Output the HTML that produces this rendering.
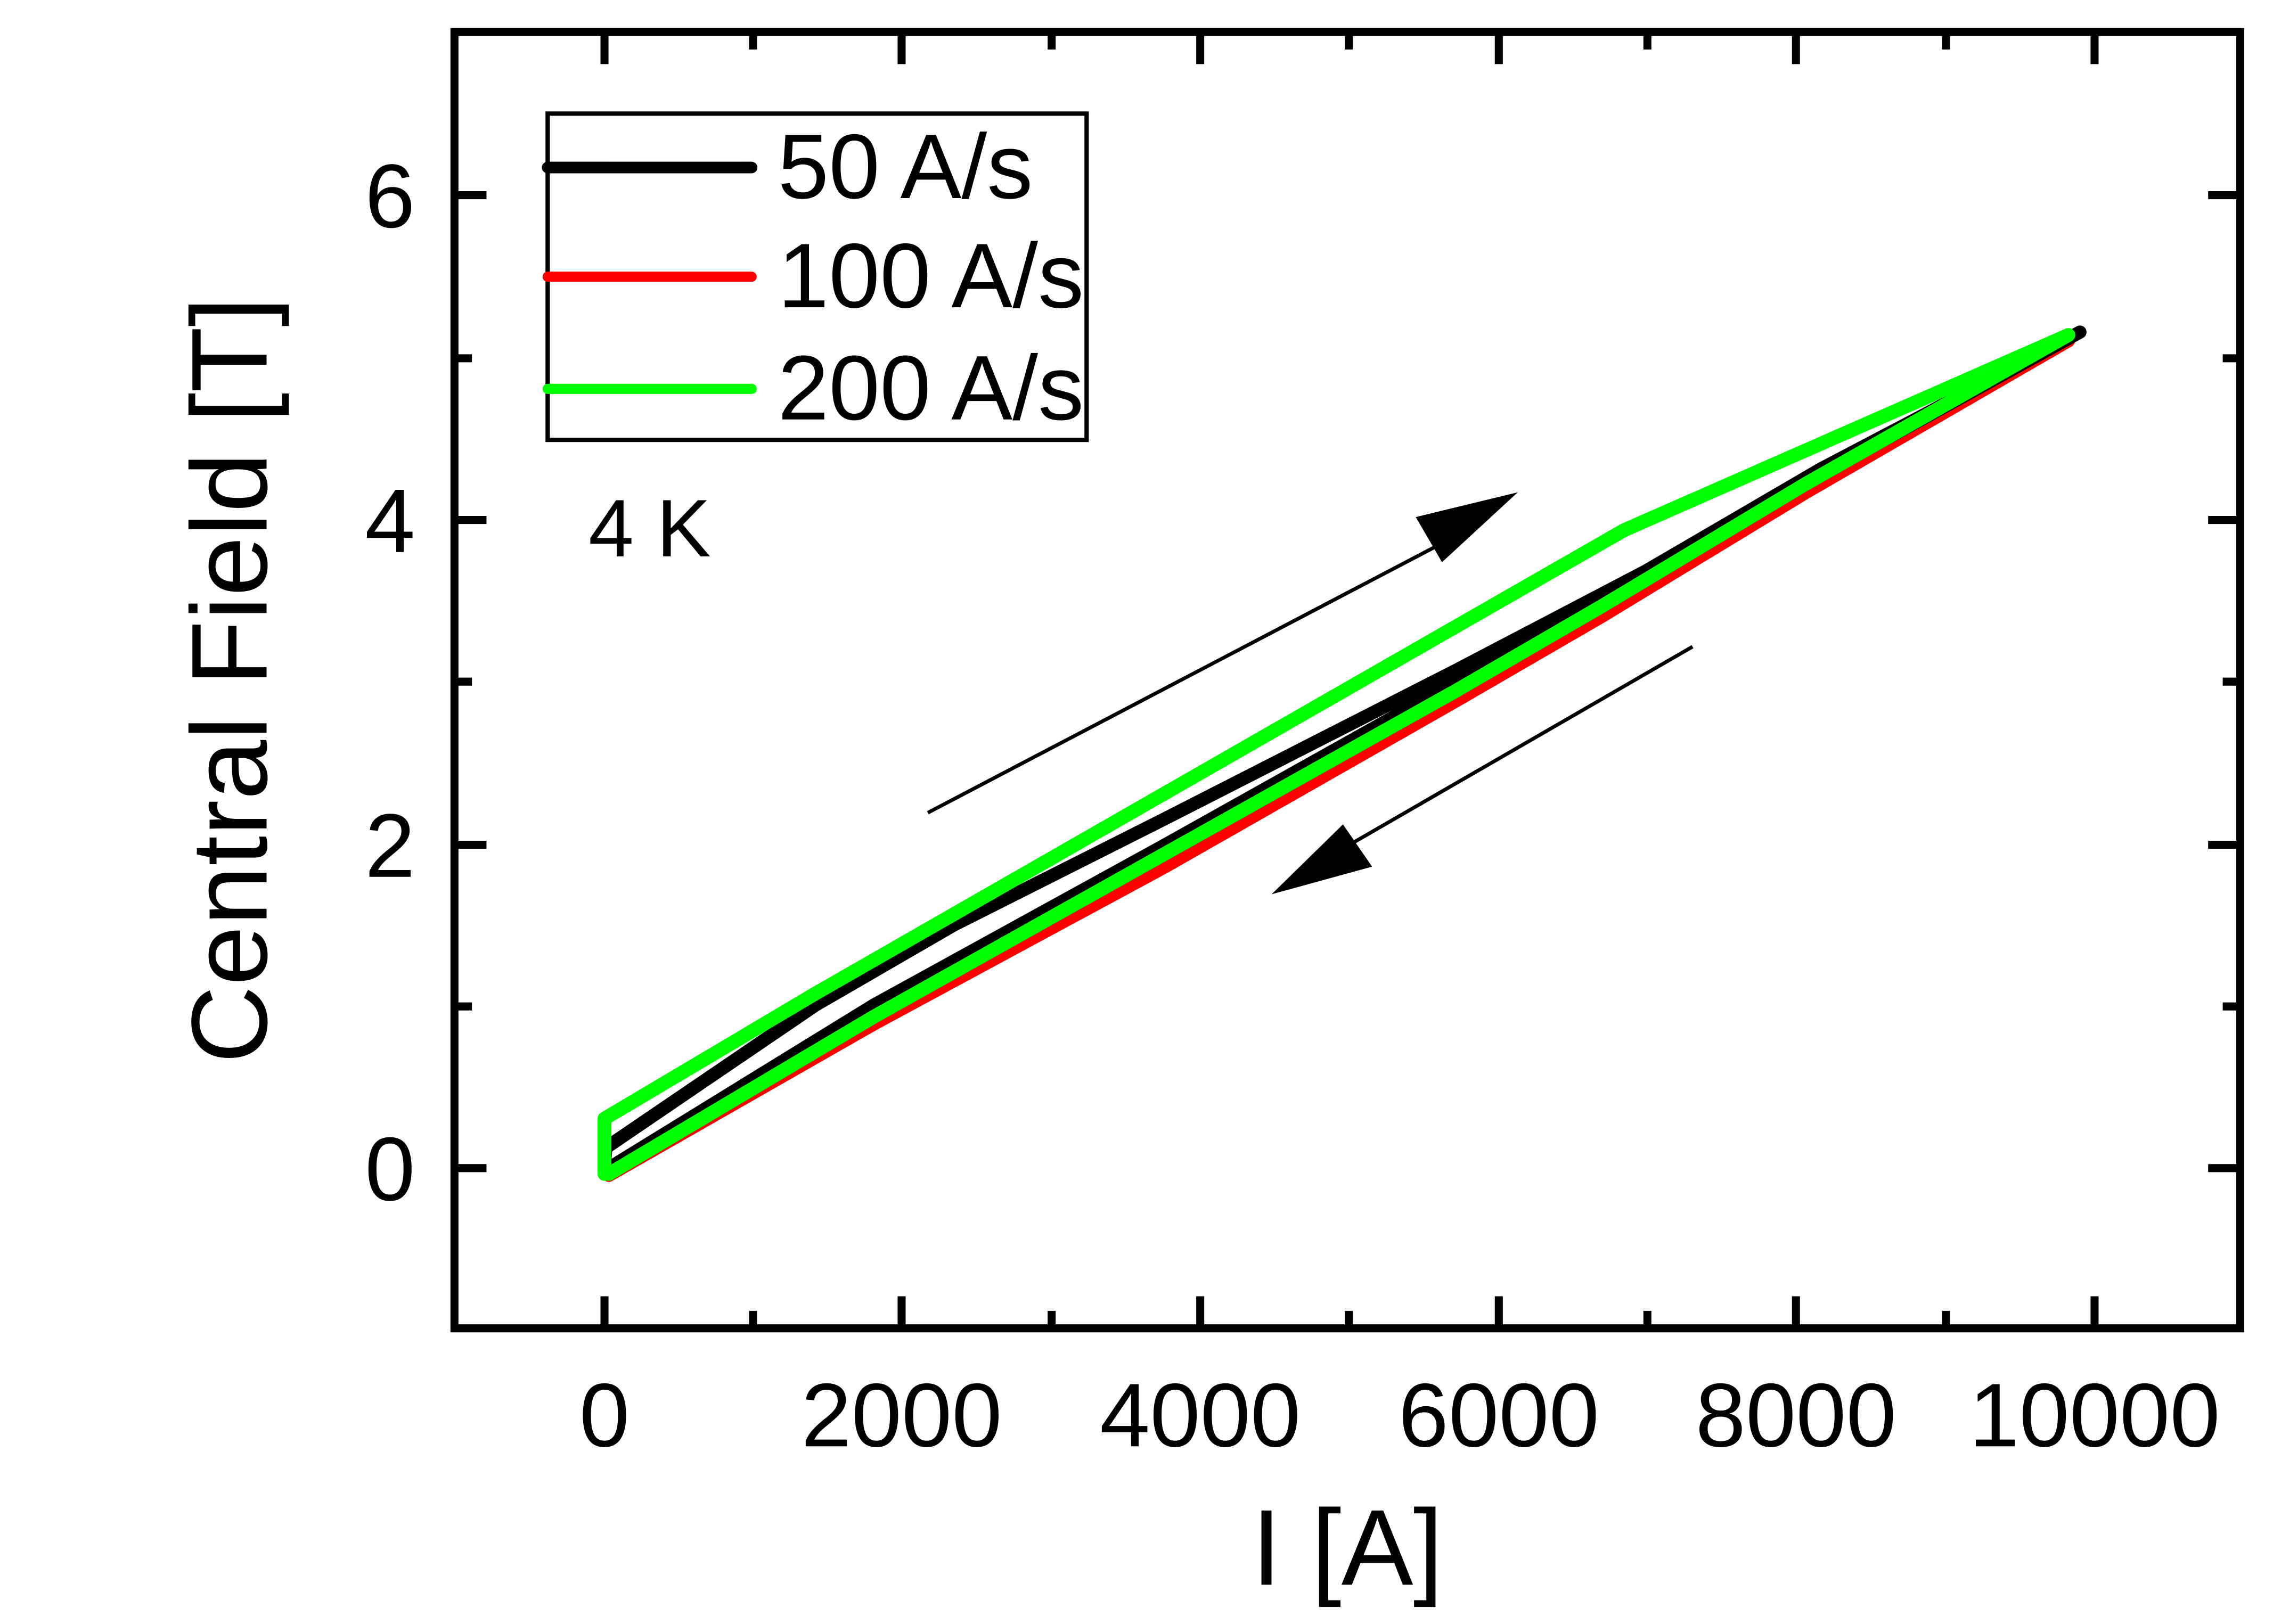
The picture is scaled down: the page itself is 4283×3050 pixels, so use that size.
<!DOCTYPE html>
<html><head><style>html,body{margin:0;padding:0;background:#fff}svg{display:block}</style></head>
<body>
<svg width="4283" height="3050" viewBox="0 0 1566 1115" preserveAspectRatio="none" xmlns="http://www.w3.org/2000/svg" font-family="Liberation Sans, sans-serif">
<rect x="0" y="0" width="1566" height="1115" fill="#fff"/>
<g fill="none" stroke-linejoin="round" stroke-linecap="round" stroke-width="9">
<!-- red -->
<polyline stroke="#ff0000" points="1420,234 1240,338 1100,423 1000,481 800,595 600,703 418,807"/>
<!-- black -->
<polyline stroke="#000" points="415,800 416,788 560,690 655,635 800,562 1000,460 1130,392 1250,326 1428,228 1330,280 1250,322 1130,392 1000,468 800,580 600,690 418,802"/>
<!-- green -->
<polyline stroke="#00ff00" stroke-width="9.5" points="415,806 415,768 560,682 1115,364 1420,230 1240,332 1100,416 1000,474 800,586 600,698 418,806"/>
</g>
<!-- frame -->
<rect x="312" y="22" width="1226" height="890" fill="none" stroke="#000" stroke-width="5.5"/>
<g stroke="#000" stroke-width="5.5">
<path d="M415,912v-22M619,912v-22M824,912v-22M1029,912v-22M1233,912v-22M1438,912v-22"/>
<path d="M415,22v22M619,22v22M824,22v22M1029,22v22M1233,22v22M1438,22v22"/>
<path d="M517,912v-12M722,912v-12M926,912v-12M1131,912v-12M1336,912v-12"/>
<path d="M517,22v12M722,22v12M926,22v12M1131,22v12M1336,22v12"/>
<path d="M312,802h22M312,580h22M312,357h22M312,134h22"/>
<path d="M1538,802h-22M1538,580h-22M1538,357h-22M1538,134h-22"/>
<path d="M312,691h12M312,468h12M312,246h12"/>
<path d="M1538,691h-12M1538,468h-12M1538,246h-12"/>
</g>
<g font-size="62" fill="#000">
<text x="415" y="993" text-anchor="middle">0</text>
<text x="619" y="993" text-anchor="middle">2000</text>
<text x="824" y="993" text-anchor="middle">4000</text>
<text x="1029" y="993" text-anchor="middle">6000</text>
<text x="1233" y="993" text-anchor="middle">8000</text>
<text x="1438" y="993" text-anchor="middle">10000</text>
<text x="285" y="824" text-anchor="end">0</text>
<text x="285" y="602" text-anchor="end">2</text>
<text x="285" y="379" text-anchor="end">4</text>
<text x="285" y="156" text-anchor="end">6</text>
</g>
<text x="925" y="1088" font-size="74" text-anchor="middle">I [A]</text>
<text transform="translate(183,467) rotate(-90)" font-size="74" text-anchor="middle">Central Field [T]</text>
<rect x="376" y="78" width="370" height="224" fill="none" stroke="#000" stroke-width="3"/>
<g stroke-width="7" stroke-linecap="round">
<line x1="376" y1="115" x2="516" y2="115" stroke="#000" stroke-width="8"/>
<line x1="376" y1="190" x2="516" y2="190" stroke="#ff0000"/>
<line x1="376" y1="267" x2="516" y2="267" stroke="#00ff00"/>
</g>
<g font-size="63" fill="#000">
<text x="534" y="136">50 A/s</text>
<text x="534" y="211">100 A/s</text>
<text x="534" y="288">200 A/s</text>
</g>
<text x="404" y="382" font-size="56">4 K</text>
<line x1="637" y1="558" x2="990" y2="373" stroke="#000" stroke-width="2.5"/>
<polygon points="972,355 1042,338 990,386" fill="#000"/>
<line x1="1162" y1="444" x2="930" y2="578" stroke="#000" stroke-width="2.5"/>
<polygon points="873,614 942,595 922,566" fill="#000"/>
</svg>
</body></html>
